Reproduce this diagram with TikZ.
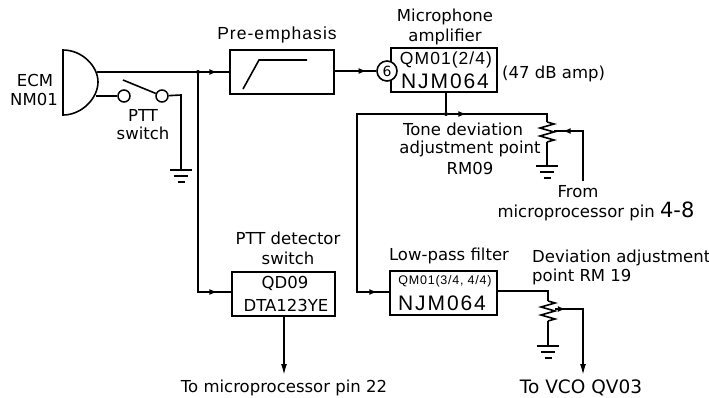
\documentclass[tikz,border=0pt]{standalone}
\usepackage{fontspec}
\setmainfont{DejaVu Sans}
\newfontfamily\handfont[LetterSpace=6]{Liberation Sans}
\newfontfamily\widefont[LetterSpace=9]{Liberation Sans}
\usetikzlibrary{arrows.meta,decorations.markings}
\tikzset{
    wire/.style={line width=1.6pt},
    midarrow/.style={postaction={decorate},decoration={markings,mark=at position #1 with {\arrow{Latex[length=8pt,width=6pt]}}}},
    tiparrow/.style={-{Latex[length=11pt,width=6pt]}},
    blockbox/.style={draw,line width=1.6pt,fill=white,inner sep=0pt,align=center},
    contact/.style={draw,circle,line width=1.5pt,fill=white,minimum size=12pt,inner sep=0pt},
    junction/.style={circle,fill=black,minimum size=4pt,inner sep=0pt},
    caption/.style={font=\fontsize{16.5}{18}\selectfont,inner sep=0pt},
    handtext/.style={font=\fontsize{17.5}{21}\selectfont\handfont,inner sep=0pt},
    widetext/.style={font=\fontsize{21}{21}\selectfont\widefont,inner sep=0pt},
    groundsym/.pic={
        \draw[line width=1.6pt] (-11,0) -- (11,0);
        \draw[line width=1.6pt] (-7,6) -- (7,6);
        \draw[line width=1.6pt] (-3.5,12) -- (3.5,12);
    },
    potzig/.pic={
        \draw[wire] (0,0) -- (7,2) -- (-7,6) -- (7,10) -- (-7,14) -- (7,18) -- (0,20);
    }
}
\begin{document}
\begin{tikzpicture}[x=1pt,y=-1pt]
    \useasboundingbox (0,0) rectangle (709,397);

    % microphone capsule
    \draw[wire] (63,50) .. controls (82,50) and (98,66) .. (98,82) .. controls (98,98) and (82,115) .. (63,115) -- cycle;
    \coordinate (micout) at (97,72);
    \coordinate (micsw) at (96,96);
    \node[caption] (ecmtext) at (35,80) {ECM};
    \node[caption] (nmtext) at (34,99) {NM01};

    % PTT switch
    \node[contact] (swa) at (124,96) {};
    \node[contact] (swb) at (162,96) {};
    \coordinate (blade) at (123,80);
    \coordinate (swcorner) at (181,95);
    \coordinate (gnda) at (181,170);
    \draw[wire] (micsw) -- (swa);
    \draw[wire] (blade) -- (swb);
    \draw[wire] (swb) -- (swcorner) -- (gnda);
    \pic at (gnda) {groundsym};
    \node[caption] (ptttext) at (143,115) {PTT};
    \node[caption] (swtext) at (143,133) {switch};

    % upper row
    \node[blockbox,minimum width=104pt,minimum height=44pt] (preemph) at (282,72) {};
    \draw[wire] (243,89) -- (259,60) -- (307,60);
    \node[handtext] (pretext) at (277,35) {Pre-emphasis};
    \node[blockbox,minimum width=106pt,minimum height=44pt] (micamp) at (444,70) {};
    \node[handtext] (amptexta) at (446,60) {QM01(2/4)};
    \node[widetext] (amptextb) at (445,81) {NJM064};
    \node[contact,minimum size=20pt,line width=1.6pt,font=\fontsize{14}{14}\selectfont] (pinsix) at (387,71) {6};
    \node[caption] (mictext) at (445,17) {Microphone};
    \node[caption] (amplabel) at (445,37) {amplifier};
    \node[caption,anchor=west] (gaintext) at (502,74) {(47 dB amp)};
    \node[junction] (micjoin) at (198,72) {};
    \draw[wire,midarrow=0.91] (micout) -- (preemph.west |- micout);
    \draw[wire,midarrow=0.77] (preemph.east |- pinsix) -- (pinsix);

    % tone deviation pot
    \coordinate (ampout) at (446,92);
    \node[junction] (ampjoin) at (446,114) {};
    \coordinate (busleft) at (357,114);
    \coordinate (potatop) at (547,114);
    \coordinate (potastart) at (547,122);
    \coordinate (potaend) at (547,142);
    \coordinate (gndb) at (547,166);
    \draw[wire] (ampout) -- (ampjoin);
    \draw[wire,midarrow=0.17] (ampjoin) -- (potatop) -- (potastart);
    \pic at (potastart) {potzig};
    \draw[wire] (potaend) -- (gndb);
    \pic at (gndb) {groundsym};
    \coordinate (wipera) at (554,131);
    \coordinate (froma) at (583,181);
    \draw[wire,midarrow=0.89] (froma) -- (froma |- wipera) -- (wipera);
    \node[caption] (tonea) at (463,129) {Tone deviation};
    \node[caption] (toneb) at (470,149) {adjustment point};
    \node[caption] (tonec) at (470,168) {RM09};
    \node[caption] (fromtext) at (578,192) {From};
    \node[caption] (pintext) at (596,211) {microprocessor pin {\fontsize{21}{21}\selectfont 4-8}};

    % lower row
    \node[blockbox,minimum width=103pt,minimum height=44pt] (pttdet) at (283.5,294) {};
    \node[caption] (qdtext) at (285,283) {QD09};
    \node[caption] (dtatext) at (286,305) {DTA123YE};
    \node[caption] (detecta) at (288,238) {PTT detector};
    \node[caption] (detectb) at (288,258) {switch};
    \node[blockbox,minimum width=107pt,minimum height=44pt] (lowpass) at (443.5,293) {};
    \node[handtext,font=\fontsize{12.5}{13}\selectfont\handfont] (lpfa) at (445,281) {QM01(3/4, 4/4)};
    \node[widetext] (lpfb) at (442,303) {NJM064};
    \node[caption] (lpftext) at (449,256) {Low-pass filter};
    \draw[wire,midarrow=0.945] (micjoin) -- (198,292) -- (pttdet.west |- 198,292);
    \draw[wire,midarrow=0.96] (ampjoin) -- (busleft) -- (357,292) -- (lowpass.west |- 357,292);
    \coordinate (microut) at (284,375);
    \draw[wire,tiparrow] (pttdet.south -| microut) -- (microut);
    \node[caption] (microtext) at (284,388) {To microprocessor pin 22};

    % deviation pot
    \coordinate (potbtop) at (548,291);
    \coordinate (potbstart) at (548,301);
    \coordinate (potbend) at (548,321);
    \coordinate (gndc) at (548,346);
    \draw[wire] (lowpass.east |- potbtop) -- (potbtop) -- (potbstart);
    \pic at (potbstart) {potzig};
    \draw[wire] (potbend) -- (gndc);
    \pic at (gndc) {groundsym};
    \coordinate (wiperb) at (555,309);
    \coordinate (vcoout) at (583,375);
    \draw[wire,tiparrow,midarrow=0.115] (wiperb) -- (vcoout |- wiperb) -- (vcoout);
    \node[caption,anchor=west] (deva) at (532,258) {Deviation adjustment};
    \node[caption,anchor=west] (devb) at (532,277) {point  RM 19};
    \node[caption,font=\fontsize{18.5}{20}\selectfont] (vcotext) at (581,388) {To VCO QV03};
\end{tikzpicture}
\end{document}
